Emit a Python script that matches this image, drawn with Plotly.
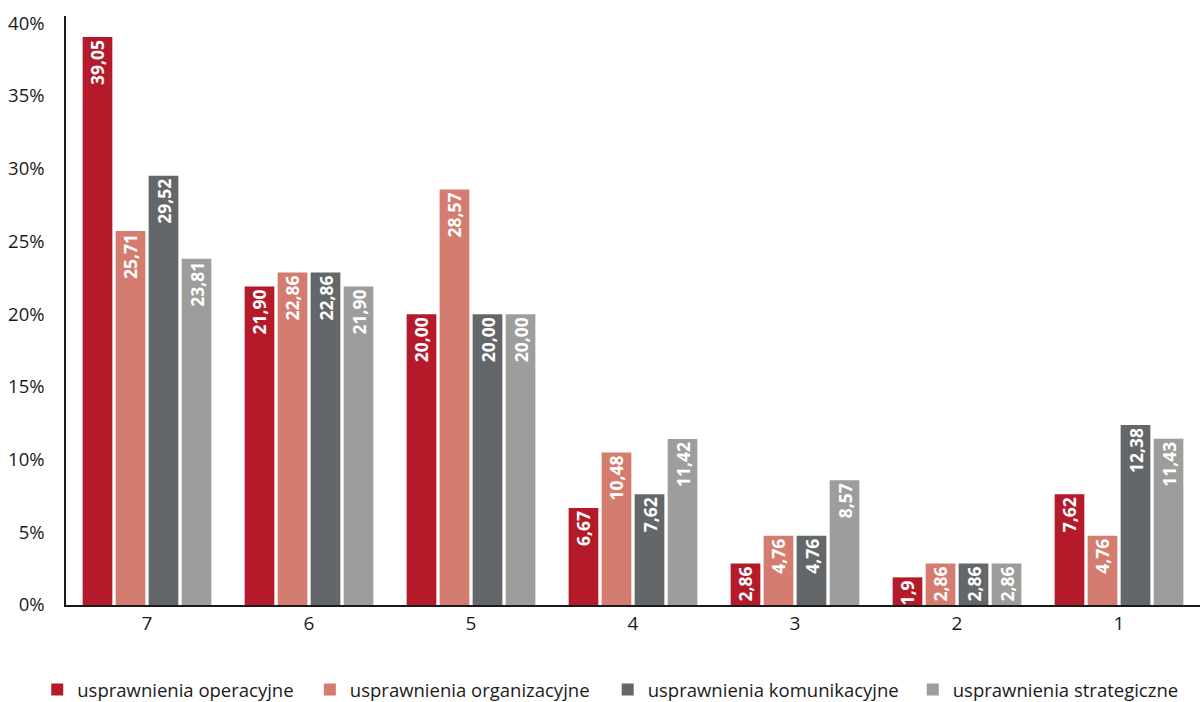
import plotly.graph_objects as go

categories = ["7", "6", "5", "4", "3", "2", "1"]

series_names = [
    "usprawnienia operacyjne",
    "usprawnienia organizacyjne",
    "usprawnienia komunikacyjne",
    "usprawnienia strategiczne",
]

operacyjne = [39.05, 21.90, 20.00, 6.67, 2.86, 1.9, 7.62]
organizacyjne = [25.71, 22.86, 28.57, 10.48, 4.76, 2.86, 4.76]
komunikacyjne = [29.52, 22.86, 20.00, 7.62, 4.76, 2.86, 12.38]
strategiczne = [23.81, 21.90, 20.00, 11.42, 8.57, 2.86, 11.43]

label_texts = [
    ["39,05", "21,90", "20,00", "6,67", "2,86", "1,9", "7,62"],
    ["25,71", "22,86", "28,57", "10,48", "4,76", "2,86", "4,76"],
    ["29,52", "22,86", "20,00", "7,62", "4,76", "2,86", "12,38"],
    ["23,81", "21,90", "20,00", "11,42", "8,57", "2,86", "11,43"],
]

colors = ["#B51A2B", "#D47C70", "#63676A", "#9D9D9C"]

y_ticks = [0, 5, 10, 15, 20, 25, 30, 35, 40]
y_tick_labels = ["0%", "5%", "10%", "15%", "20%", "25%", "30%", "35%", "40%"]

font_family = "Open Sans, sans-serif"

# one legend box per series so the entries can be spaced freely along the bottom
legend_ids = ["legend", "legend2", "legend3", "legend4"]
legend_x = [0.031, 0.258, 0.506, 0.760]

fig = go.Figure()
for name, values, texts, color, leg in zip(
    series_names,
    [operacyjne, organizacyjne, komunikacyjne, strategiczne],
    label_texts,
    colors,
    legend_ids,
):
    fig.add_trace(
        go.Bar(
            x=categories,
            y=values,
            name=name,
            legend=leg,
            marker=dict(color=color, line=dict(width=0)),
            text=texts,
            textposition="inside",
            insidetextanchor="end",
            textangle=-90,
            textfont=dict(family=font_family, size=17.5, color="white", weight="bold"),
            constraintext="none",
            cliponaxis=False,
            hoverinfo="skip",
        )
    )

legend_style = dict(
    orientation="h",
    xref="container",
    yref="container",
    y=0.017,
    xanchor="left",
    yanchor="middle",
    font=dict(family=font_family, size=18.5, color="#1a1a1a"),
    itemwidth=30,
    bgcolor="rgba(0,0,0,0)",
)

fig.update_layout(
    width=1201,
    height=702,
    margin=dict(l=66, r=1, t=16, b=97),
    paper_bgcolor="white",
    plot_bgcolor="white",
    barmode="group",
    bargap=0.185,
    bargroupgap=0.1,
    font=dict(family=font_family, size=18, color="#1a1a1a"),
    uniformtext=dict(minsize=17, mode="show"),
    showlegend=True,
    xaxis=dict(
        type="category",
        showline=True,
        linecolor="#1a1a1a",
        linewidth=1.5,
        showgrid=False,
        ticks="",
        tickfont=dict(size=19),
    ),
    yaxis=dict(
        range=[0, 40.5],
        tickvals=y_ticks,
        ticktext=y_tick_labels,
        showline=True,
        linecolor="#1a1a1a",
        linewidth=1.5,
        showgrid=False,
        zeroline=False,
        ticks="",
        ticklabelstandoff=16,
        tickfont=dict(size=18.5),
    ),
)

for leg, lx in zip(legend_ids, legend_x):
    fig.update_layout({leg: dict(legend_style, x=lx)})

fig.write_html("out.html")
